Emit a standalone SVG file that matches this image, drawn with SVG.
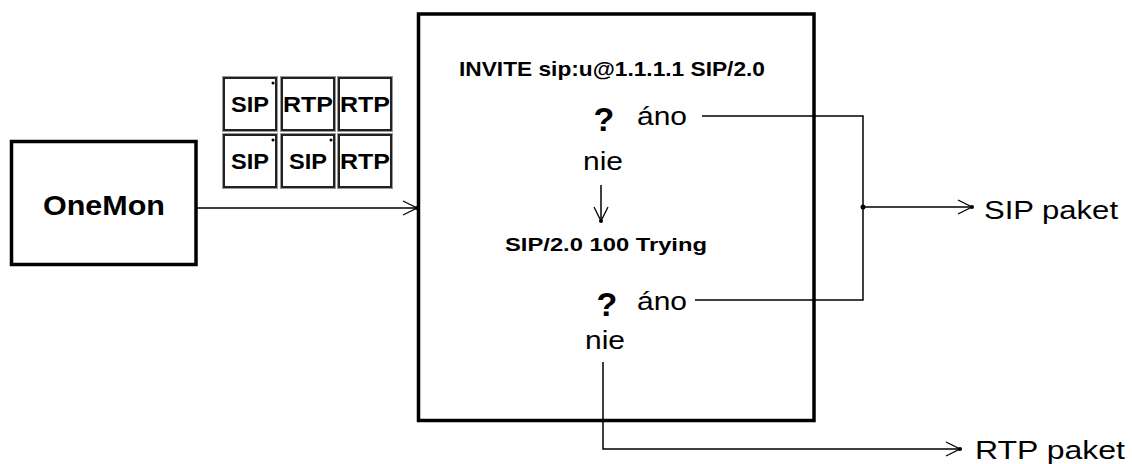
<svg xmlns="http://www.w3.org/2000/svg" width="1132" height="464" viewBox="0 0 1132 464">
<style>
.box{fill:#fff;stroke:#000;stroke-width:3.5}
.pk{fill:#fff;stroke:#222;stroke-width:2}
.pko{fill:none;stroke:#999;stroke-width:1}
.ln{fill:none;stroke:#000;stroke-width:1.5}
.t{font-family:"Liberation Sans",Arial,sans-serif;fill:#000}
.b{font-weight:bold}
</style>
<defs>
<marker id="arr" markerWidth="18" markerHeight="18" refX="15" refY="8" orient="auto" markerUnits="userSpaceOnUse">
<path d="M1,1 L15,8 L1,15" fill="none" stroke="#000" stroke-width="1.3"/>
<circle cx="15" cy="8" r="2" fill="#000"/>
</marker>
</defs>
<rect width="1132" height="464" fill="#fff"/>
<g id="onemon">
<rect class="box" x="11.5" y="141.5" width="184.5" height="123"/>
<text class="t b" x="104" y="215" font-size="28" text-anchor="middle" textLength="122" lengthAdjust="spacingAndGlyphs">OneMon</text>
</g>
<g id="packets">
<rect class="pko" x="222.5" y="76.5" width="55" height="55"/>
<rect class="pk" x="224" y="78" width="52" height="52"/>
<circle cx="273" cy="83" r="1.5" fill="#000"/>
<text class="t b" x="250" y="112" font-size="22" text-anchor="middle" textLength="38" lengthAdjust="spacingAndGlyphs">SIP</text>
<rect class="pko" x="280.5" y="76.5" width="55" height="55"/>
<rect class="pk" x="282" y="78" width="52" height="52"/>
<text class="t b" x="308" y="112" font-size="22" text-anchor="middle" textLength="50" lengthAdjust="spacingAndGlyphs">RTP</text>
<rect class="pko" x="337.5" y="76.5" width="55" height="55"/>
<rect class="pk" x="339" y="78" width="52" height="52"/>
<text class="t b" x="365" y="112" font-size="22" text-anchor="middle" textLength="50" lengthAdjust="spacingAndGlyphs">RTP</text>
<rect class="pko" x="222.5" y="133.5" width="55" height="55"/>
<rect class="pk" x="224" y="135" width="52" height="52"/>
<circle cx="273" cy="140" r="1.5" fill="#000"/>
<text class="t b" x="250" y="169" font-size="22" text-anchor="middle" textLength="38" lengthAdjust="spacingAndGlyphs">SIP</text>
<rect class="pko" x="280.5" y="133.5" width="55" height="55"/>
<rect class="pk" x="282" y="135" width="52" height="52"/>
<circle cx="331" cy="140" r="1.5" fill="#000"/>
<text class="t b" x="308" y="169" font-size="22" text-anchor="middle" textLength="38" lengthAdjust="spacingAndGlyphs">SIP</text>
<rect class="pko" x="337.5" y="133.5" width="55" height="55"/>
<rect class="pk" x="339" y="135" width="52" height="52"/>
<text class="t b" x="365" y="169" font-size="22" text-anchor="middle" textLength="50" lengthAdjust="spacingAndGlyphs">RTP</text>
</g>
<g id="filter">
<rect class="box" x="418.5" y="14" width="395.5" height="406.5"/>
<text class="t b" x="612" y="76" font-size="21" text-anchor="middle" textLength="306" lengthAdjust="spacingAndGlyphs">INVITE sip:u@1.1.1.1 SIP/2.0</text>
<text class="t b" x="604" y="131" font-size="34" text-anchor="middle">?</text>
<text class="t" x="637" y="125" font-size="26" textLength="50" lengthAdjust="spacingAndGlyphs">áno</text>
<text class="t" x="603" y="170" font-size="26" text-anchor="middle" textLength="40" lengthAdjust="spacingAndGlyphs">nie</text>
<text class="t b" x="606" y="251" font-size="19" text-anchor="middle" textLength="202" lengthAdjust="spacingAndGlyphs">SIP/2.0 100 Trying</text>
<text class="t b" x="607" y="316" font-size="34" text-anchor="middle">?</text>
<text class="t" x="637" y="310" font-size="26" textLength="50" lengthAdjust="spacingAndGlyphs">áno</text>
<text class="t" x="605" y="349" font-size="26" text-anchor="middle" textLength="40" lengthAdjust="spacingAndGlyphs">nie</text>
</g>
<g id="outputs">
<text class="t" x="984" y="219" font-size="26" textLength="134" lengthAdjust="spacingAndGlyphs">SIP paket</text>
<text class="t" x="975" y="459" font-size="26" textLength="150" lengthAdjust="spacingAndGlyphs">RTP paket</text>
</g>
<g id="connectors">
<line class="ln" x1="197" y1="208" x2="417" y2="208" marker-end="url(#arr)"/>
<line class="ln" x1="601" y1="185" x2="601" y2="221" marker-end="url(#arr)"/>
<polyline class="ln" points="702,116 863,116 863,300 695,300"/>
<line class="ln" x1="863" y1="207" x2="972" y2="207" marker-end="url(#arr)"/>
<circle cx="863" cy="207" r="2.5" fill="#000"/>
<polyline class="ln" points="603,362 603,449 960,449" marker-end="url(#arr)"/>
</g>
</svg>
